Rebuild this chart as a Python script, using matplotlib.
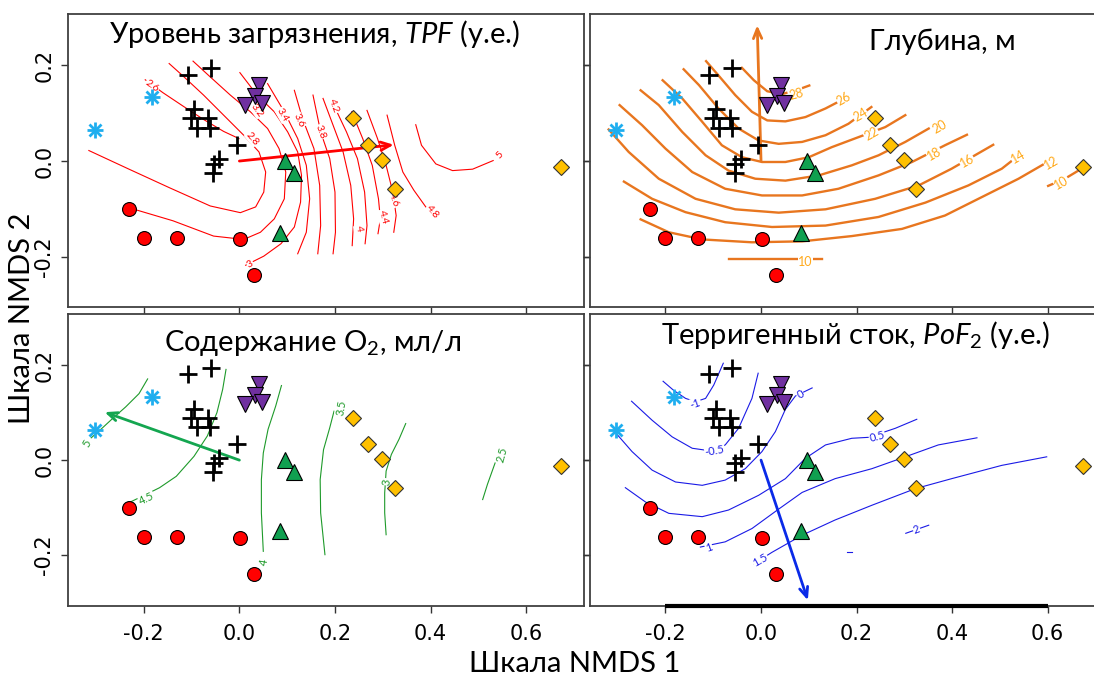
import matplotlib
matplotlib.use('Agg')
import matplotlib.pyplot as plt

plt.rcParams['font.family'] = ['Lato', 'DejaVu Sans']
plt.rcParams['mathtext.fontset'] = 'custom'
plt.rcParams['mathtext.rm'] = 'Lato'
plt.rcParams['mathtext.it'] = 'Lato:italic'

# NMDS site scores by group
red_x = [-0.232, -0.200, -0.131, 0.001, 0.031]
red_y = [-0.101, -0.161, -0.162, -0.164, -0.239]
green_x = [0.096, 0.114, 0.084]
green_y = [0.000, -0.024, -0.150]
purple_x = [0.041, 0.033, 0.048, 0.012]
purple_y = [0.160, 0.137, 0.122, 0.118]
yellow_x = [0.238, 0.269, 0.299, 0.325, 0.673]
yellow_y = [0.089, 0.034, 0.003, -0.058, -0.012]
cyan_x = [-0.183, -0.303]
cyan_y = [0.133, 0.064]
black_x = [-0.108, -0.060, -0.094, -0.101, -0.065, -0.088, -0.061, -0.006, -0.042, -0.054, -0.055]
black_y = [0.181, 0.195, 0.108, 0.089, 0.089, 0.070, 0.070, 0.034, 0.004, -0.007, -0.025]

# fitted vectors (arrow tips)
tpf_arrow = (0.323, 0.034)
depth_arrow = (-0.008, 0.284)
o2_arrow = (-0.282, 0.101)
pof_arrow = (0.098, -0.295)

# contour lines of the fitted surfaces
tpf_lines = [
    ([-0.197, -0.160, -0.118, -0.075, -0.033, -0.001],
     [0.170, 0.143, 0.115, 0.087, 0.062, 0.047]),
    ([-0.147, -0.118, -0.075, -0.033, 0.009, 0.041, 0.055, 0.051, 0.034, 0.002, -0.061, -0.146, -0.231, -0.315],
     [0.204, 0.178, 0.138, 0.096, 0.054, 0.019, -0.023, -0.065, -0.096, -0.108, -0.094, -0.056, -0.017, 0.022]),
    ([-0.097, -0.061, -0.019, 0.023, 0.059, 0.083, 0.097, 0.094, 0.073, 0.044, 0.009, -0.054, -0.139, -0.220],
     [0.209, 0.176, 0.138, 0.103, 0.068, 0.026, -0.023, -0.079, -0.121, -0.149, -0.164, -0.157, -0.125, -0.101]),
    ([0.001, 0.037, 0.073, 0.101, 0.122, 0.130, 0.128, 0.115, 0.087, 0.051, 0.013],
     [0.185, 0.138, 0.103, 0.061, 0.019, -0.030, -0.086, -0.138, -0.173, -0.199, -0.218]),
    ([0.059, 0.094, 0.122, 0.140, 0.147, 0.140, 0.122],
     [0.162, 0.103, 0.047, -0.009, -0.079, -0.149, -0.194]),
    ([0.115, 0.132, 0.156, 0.168, 0.170, 0.164],
     [0.148, 0.089, 0.026, -0.051, -0.135, -0.194]),
    ([0.154, 0.170, 0.189, 0.200, 0.201, 0.196],
     [0.138, 0.061, 0.005, -0.065, -0.149, -0.194]),
    ([0.175, 0.196, 0.217, 0.233, 0.239, 0.236],
     [0.131, 0.075, 0.019, -0.051, -0.121, -0.177]),
    ([0.196, 0.224, 0.247, 0.262, 0.267, 0.263],
     [0.120, 0.061, 0.005, -0.065, -0.135, -0.173]),
    ([0.235, 0.258, 0.278, 0.291, 0.295, 0.290],
     [0.103, 0.047, -0.009, -0.079, -0.121, -0.152]),
    ([0.267, 0.289, 0.307, 0.321, 0.328, 0.323],
     [0.106, 0.047, -0.009, -0.065, -0.114, -0.149]),
    ([0.309, 0.325, 0.342, 0.365, 0.390],
     [0.096, 0.033, -0.023, -0.061, -0.096]),
    ([0.369, 0.381, 0.411, 0.446, 0.488, 0.531],
     [0.076, 0.033, -0.006, -0.020, -0.017, 0.001]),
]
tpf_labels = [
    (-0.183, 0.157, '2.6', -35), (0.027, 0.047, '2.8', -50), (0.023, -0.216, '3', 30),
    (0.036, 0.106, '3.2', -55), (0.090, 0.096, '3.4', -60), (0.125, 0.085, '3.6', -65),
    (0.170, 0.061, '3.8', -70), (0.198, 0.115, '4.2', -70), (0.249, -0.142, '4', -80),
    (0.300, -0.117, '4.4', -75), (0.323, -0.082, '4.6', -70), (0.404, -0.107, '4.8', -50),
    (0.545, 0.012, '5', 45),
]

depth_lines = [
    ([-0.040, -0.015, 0.013, 0.044, 0.079, 0.101],
     [0.195, 0.169, 0.146, 0.140, 0.150, 0.158]),
    ([-0.115, -0.089, -0.054, -0.019, 0.013, 0.051, 0.093, 0.135, 0.162],
     [0.209, 0.179, 0.138, 0.103, 0.085, 0.083, 0.092, 0.110, 0.124]),
    ([-0.162, -0.130, -0.089, -0.047, -0.005, 0.037, 0.086, 0.135, 0.183, 0.231],
     [0.192, 0.159, 0.110, 0.068, 0.043, 0.036, 0.040, 0.054, 0.078, 0.113]),
    ([-0.206, -0.165, -0.123, -0.082, -0.040, 0.002, 0.051, 0.100, 0.148, 0.204, 0.260, 0.302],
     [0.169, 0.131, 0.082, 0.033, 0.008, -0.002, -0.002, 0.008, 0.029, 0.050, 0.071, 0.096]),
    ([-0.252, -0.214, -0.165, -0.116, -0.068, -0.012, 0.051, 0.121, 0.190, 0.246, 0.302, 0.351],
     [0.148, 0.117, 0.061, 0.012, -0.020, -0.037, -0.041, -0.030, -0.009, 0.012, 0.040, 0.068]),
    ([-0.296, -0.249, -0.200, -0.144, -0.075, 0.002, 0.086, 0.162, 0.246, 0.316, 0.385, 0.431],
     [0.117, 0.075, 0.026, -0.023, -0.058, -0.072, -0.072, -0.058, -0.030, -0.002, 0.033, 0.055]),
    ([-0.319, -0.277, -0.214, -0.137, -0.054, 0.037, 0.135, 0.239, 0.330, 0.399, 0.486],
     [0.066, 0.019, -0.037, -0.079, -0.101, -0.108, -0.101, -0.079, -0.051, -0.016, 0.034]),
    ([-0.287, -0.228, -0.158, -0.075, 0.023, 0.135, 0.246, 0.344, 0.434, 0.504, 0.546],
     [-0.043, -0.079, -0.107, -0.128, -0.138, -0.135, -0.117, -0.087, -0.051, -0.016, 0.017]),
    ([-0.252, -0.193, -0.123, -0.019, 0.086, 0.190, 0.295, 0.385, 0.469, 0.539, 0.598],
     [-0.122, -0.149, -0.164, -0.170, -0.168, -0.157, -0.142, -0.114, -0.072, -0.037, -0.003]),
    ([0.601, 0.636, 0.671], [-0.052, -0.037, -0.016]),
    ([-0.066, 0.128], [-0.205, -0.205]),
]
depth_labels = [
    (0.073, 0.139, '28', 15), (0.173, 0.131, '26', 30), (0.208, 0.096, '24', 30),
    (0.231, 0.057, '22', 30), (0.373, 0.071, '20', 30), (0.363, 0.015, '18', 30),
    (0.431, 0.000, '16', 30), (0.539, 0.008, '14', 30), (0.608, -0.003, '12', 30),
    (0.629, -0.045, '10', 30), (0.093, -0.212, '10', 0),
]

o2_lines = [
    ([-0.192, -0.210, -0.238, -0.266, -0.294, -0.310],
     [0.171, 0.140, 0.112, 0.087, 0.061, 0.047]),
    ([-0.028, -0.035, -0.047, -0.067, -0.095, -0.132, -0.167, -0.203, -0.228],
     [0.191, 0.149, 0.100, 0.051, 0.008, -0.034, -0.058, -0.076, -0.088]),
    ([0.088, 0.076, 0.060, 0.050, 0.046, 0.046, 0.050],
     [0.157, 0.114, 0.065, 0.015, -0.041, -0.111, -0.192]),
    ([0.198, 0.189, 0.176, 0.169, 0.170, 0.179],
     [0.103, 0.068, 0.022, -0.041, -0.111, -0.199]),
    ([0.348, 0.334, 0.318, 0.307, 0.304, 0.304, 0.307],
     [0.077, 0.044, 0.012, -0.023, -0.069, -0.111, -0.157]),
    ([0.509, 0.519, 0.535], [-0.083, -0.051, -0.006]),
]
o2_labels = [
    (-0.319, 0.035, '5', 60), (-0.194, -0.081, '4.5', 25), (0.052, -0.215, '4', 80),
    (0.213, 0.110, '3.5', 80), (0.309, -0.046, '3', 80), (0.549, 0.012, '2.5', 75),
]

pof_lines = [
    ([-0.205, -0.183, -0.158, -0.137, -0.116, -0.099, -0.079],
     [0.166, 0.147, 0.130, 0.123, 0.130, 0.158, 0.204]),
    ([-0.271, -0.228, -0.186, -0.144, -0.102, -0.075, -0.047, -0.019, -0.006],
     [0.124, 0.084, 0.049, 0.025, 0.019, 0.032, 0.067, 0.130, 0.183]),
    ([-0.303, -0.270, -0.228, -0.179, -0.123, -0.075, -0.033, 0.002, 0.030, 0.051, 0.072, 0.107],
     [0.056, 0.018, -0.021, -0.046, -0.053, -0.042, -0.018, 0.018, 0.060, 0.107, 0.135, 0.152]),
    ([-0.284, -0.242, -0.193, -0.123, -0.068, -0.005, 0.051, 0.093, 0.135, 0.190, 0.225, 0.281, 0.326],
     [-0.058, -0.088, -0.112, -0.119, -0.105, -0.074, -0.039, 0.004, 0.032, 0.046, 0.048, 0.067, 0.086]),
    ([-0.127, -0.075, -0.019, 0.037, 0.086, 0.155, 0.232, 0.302, 0.371, 0.452],
     [-0.183, -0.172, -0.144, -0.103, -0.068, -0.039, -0.018, 0.007, 0.032, 0.047]),
    ([-0.015, 0.023, 0.086, 0.155, 0.232, 0.323, 0.399, 0.504, 0.598],
     [-0.218, -0.194, -0.158, -0.126, -0.095, -0.060, -0.039, -0.011, 0.007]),
    ([0.303, 0.351], [-0.154, -0.137]),
    ([0.180, 0.190], [-0.193, -0.193]),
]
pof_labels = [
    (-0.137, 0.119, '-1', 20), (-0.097, 0.019, '-0.5', 10), (0.082, 0.138, '0', 30),
    (0.243, 0.049, '0.5', 15), (-0.109, -0.184, '1', 20), (-0.001, -0.211, '1.5', 30),
    (0.326, -0.147, '2', 20),
]

xticks = [-0.2, 0.0, 0.2, 0.4, 0.6]
yticks = [-0.2, 0.0, 0.2]

W, H = 1094, 682
fig = plt.figure(figsize=(W / 100, H / 100), dpi=100)


def add_panel(left, top, right, bottom):
    return fig.add_axes([left / W, 1 - bottom / H, (right - left) / W, (bottom - top) / H])


def draw_sites(ax):
    ax.plot(black_x, black_y, '+', color='black', ms=13, mew=2, ls='none', zorder=5)
    ax.plot(cyan_x, cyan_y, '+', color='#1FAEEF', ms=12, mew=2, ls='none', zorder=5)
    ax.plot(cyan_x, cyan_y, 'x', color='#1FAEEF', ms=9, mew=2, ls='none', zorder=5)
    ax.plot(red_x, red_y, 'o', mfc='#FF0000', mec='black', ms=10, mew=0.8, ls='none', zorder=5)
    ax.plot(green_x, green_y, '^', mfc='#10A050', mec='black', ms=11, mew=0.8, ls='none', zorder=5)
    ax.plot(purple_x, purple_y, 'v', mfc='#7030A0', mec='black', ms=11, mew=0.8, ls='none', zorder=5)
    ax.plot(yellow_x, yellow_y, 'D', mfc='#FFC000', mec='#333333', ms=8, mew=0.8, ls='none', zorder=5)


def draw_panel(ax, lines, labels, color, lw, lab_color, lab_size, arrow, arrow_color, row, col):
    for lx, ly in lines:
        ax.plot(lx, ly, color=color, lw=lw, zorder=2)
    for tx, ty, txt, rot in labels:
        ax.text(tx, ty, txt, color=lab_color, fontsize=lab_size, rotation=rot,
                ha='center', va='center', zorder=3,
                bbox=dict(fc='white', ec='none', pad=0.3))
    ax.annotate('', xy=arrow, xytext=(0, 0), zorder=4,
                arrowprops=dict(arrowstyle='->,head_length=0.7,head_width=0.3',
                                color=arrow_color, lw=2, shrinkA=0, shrinkB=0))
    draw_sites(ax)
    ax.set_xlim(-0.358, 0.72)
    ax.set_ylim(-0.306, 0.307)
    ax.set_xticks(xticks)
    ax.set_yticks(yticks)
    ax.set_xticklabels(['%.1f' % v for v in xticks], fontsize=15, family='Liberation Sans Narrow')
    ax.set_yticklabels(['%.1f' % v for v in yticks], fontsize=15, family='Liberation Sans Narrow',
                       rotation=90, va='center')
    ax.tick_params(direction='out', length=5, width=1, colors='#333333', labelcolor='black',
                   top=False, right=True, labelleft=(col == 0), labelbottom=(row == 1))
    ax.tick_params(axis='x', pad=8)
    ax.tick_params(axis='y', pad=5)
    for sp in ax.spines.values():
        sp.set_color('#404040')
        sp.set_linewidth(1.3)


ax_tl = add_panel(68.3, 14.3, 583.5, 307.3)
ax_tr = add_panel(590, 14.3, 1105, 307.3)
ax_bl = add_panel(68.3, 314.3, 583.5, 605.5)
ax_br = add_panel(590, 314.3, 1105, 605.5)

draw_panel(ax_tl, tpf_lines, tpf_labels, '#FF0000', 0.8, '#FF0000', 7.5, tpf_arrow, '#FF0000', 0, 0)
draw_panel(ax_tr, depth_lines, depth_labels, '#E8761F', 1.7, '#FFA91A', 9, depth_arrow, '#E8761F', 0, 1)
draw_panel(ax_bl, o2_lines, o2_labels, '#1E9A2A', 0.8, '#1E9A2A', 8, o2_arrow, '#14A650', 1, 0)
draw_panel(ax_br, pof_lines, pof_labels, '#1A1AE6', 0.8, '#1A1AE6', 8, pof_arrow, '#0A2AE8', 1, 1)

ax_br.plot([xticks[0], xticks[-1]], [-0.306, -0.306], color='black', lw=3,
           solid_capstyle='butt', clip_on=False, zorder=6)

ax_tl.text(0.477, 0.902, 'Уровень загрязнения, $\\mathit{TPF}$ (у.е.)', fontsize=21,
           ha='center', va='baseline', transform=ax_tl.transAxes)
ax_tr.text(0.685, 0.878, 'Глубина, м', fontsize=21,
           ha='center', va='baseline', transform=ax_tr.transAxes)
ax_bl.text(0.475, 0.875, 'Содержание O$_2$, мл/л', fontsize=21,
           ha='center', va='baseline', transform=ax_bl.transAxes)
ax_br.text(0.516, 0.898, 'Терригенный сток, $\\mathit{PoF}_2$ (у.е.)', fontsize=21,
           ha='center', va='baseline', transform=ax_br.transAxes)

fig.text(575 / W, 1 - 664 / H, 'Шкала NMDS 1', fontsize=21, ha='center', va='center')
fig.text(22 / W, 1 - 318 / H, 'Шкала NMDS 2', fontsize=21, ha='center', va='center', rotation=90)

fig.savefig('out.png', dpi=100)
